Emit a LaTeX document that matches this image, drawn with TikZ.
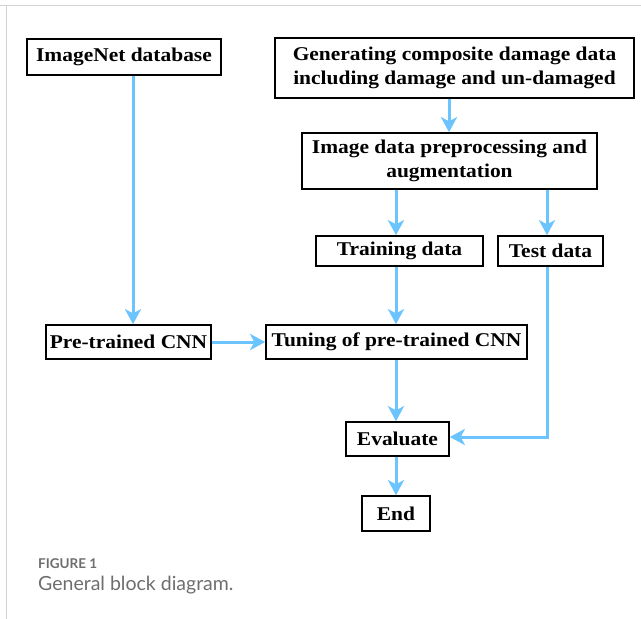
\documentclass[tikz,border=0pt]{standalone}
\usepackage{fontspec}
\setmainfont[FakeStretch=1.1]{Liberation Serif}
\newfontfamily\capfont{Lato}
\usetikzlibrary{arrows.meta}
\definecolor{arrowblue}{RGB}{108,196,255}
\definecolor{framegray}{RGB}{210,210,210}
\definecolor{capgray}{RGB}{110,110,110}
\tikzset{
  box/.style={draw=black, line width=1.6pt, fill=white, inner sep=0pt, align=center,
    font=\fontsize{19.5}{24}\selectfont\bfseries},
  flow/.style={draw=arrowblue, line width=3pt,
    -{Stealth[length=15pt,width=16pt,inset=4pt]}},
}
\begin{document}
\begin{tikzpicture}[x=1pt,y=-1pt]
\useasboundingbox (0,0) rectangle (641,619);
\draw[framegray, line width=1pt] (0,5) -- (641,5);
\draw[framegray, line width=1pt] (6,5) -- (6,619);
% boxes
\node[box, minimum width=194pt, minimum height=36pt] (imnet) at (124,57) {ImageNet database};
\node[box, minimum width=359pt, minimum height=60pt] (gen) at (454.5,68) {Generating composite damage data\\including damage and un-damaged};
\node[box, minimum width=295pt, minimum height=56pt] (prep) at (449.5,161) {Image data preprocessing and\\augmentation};
\node[box, minimum width=167pt, minimum height=30pt] (train) at (399.5,251) {Training data};
\node[box, minimum width=105pt, minimum height=30pt] (test) at (550.5,251) {Test data};
\node[box, minimum width=165pt, minimum height=34pt] (pre) at (128.5,342) {Pre-trained CNN};
\node[box, minimum width=261pt, minimum height=34pt] (tune) at (396.5,342) {Tuning of pre-trained CNN};
\node[box, minimum width=103pt, minimum height=34pt] (eval) at (397.5,439) {Evaluate};
\node[box, minimum width=68pt, minimum height=35pt] (end) at (396,513.5) {End};
% connectors
\draw[flow] (imnet.south -| 133,0) -- (pre.north -| 133,0);
\draw[flow] (gen.south -| 449,0) -- (prep.north -| 449,0);
\draw[flow] (prep.south -| 396,0) -- (train.north -| 396,0);
\draw[flow] (prep.south -| 547,0) -- (test.north -| 547,0);
\draw[flow] (train.south -| 396,0) -- (tune.north -| 396,0);
\draw[flow] (pre.east) -- (tune.west);
\draw[flow] (tune.south -| 396,0) -- (eval.north -| 396,0);
\draw[flow] (test.south -| 547,0) -- (547,437) -- (eval.east |- 0,437);
\draw[flow] (eval.south -| 396,0) -- (end.north -| 396,0);
% caption
\node[anchor=base west, inner sep=0pt, text=capgray, font=\capfont\fontsize{13.5}{16}\selectfont\bfseries] (fig) at (38,568) {FIGURE 1};
\node[anchor=base west, inner sep=0pt, text=capgray, font=\capfont\fontsize{19.5}{23}\selectfont] (cap) at (38,590) {General block diagram.};
\end{tikzpicture}
\end{document}
